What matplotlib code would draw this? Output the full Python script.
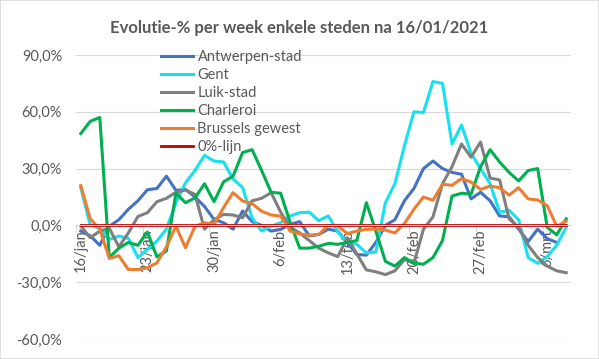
import numpy as np
import matplotlib.pyplot as plt
from matplotlib.patches import Rectangle
from matplotlib.ticker import FuncFormatter

plt.rcParams['font.family'] = ['Lato', 'DejaVu Sans']

# Data (% change per week, daily 16/jan - 8/mrt)
title = "Evolutie-% per week enkele steden na 16/01/2021"
tick_labels = ["16/jan", "23/jan", "30/jan", "6/feb", "13/feb", "20/feb", "27/feb", "6/mrt"]
tick_pos = [0, 7, 14, 21, 28, 35, 42, 49]

antwerpen = [-3, -5.5, -10.5, -0.5, 3, 8.5, 13, 18.8, 19.5, 26,
             18.5, 19, 15, 10, 3.2, 1.4, -2, 7.6, 2, 0,
             -3, -2.1, 0.5, 2, -5.5, -4.8, -2, -3, -9, -15.4,
             -15.7, -9, 0, 3, 13, 19.5, 30, 34, 30, 28,
             27, 14, 17.5, 13, 5, 4.5, -2, -8.5, -2, -7,
             -9, np.nan]
gent = [20, 0, -1.5, -7.4, -5.6, -6.8, -17, -12.7, -8.3, -1.8,
        12, 22.5, 29, 37, 34, 33.5, 24.5, 20, 4, -3,
        -0.5, 1.5, 5, 6.7, 7, 2.5, 5, -3.5, -9, -10,
        -14.5, -14, 12, 22, 42, 60, 59.6, 76, 75, 43,
        53, 38, 30, 22, 7, 8, 3, -17, -20, -16.5,
        -10.5, -1]
luik = [-0.3, -6.5, -3, -1.5, -11.3, -4, 4.7, 6.7, 12.5, 14.3,
        17.5, 18.7, 16.4, -2, 3, 5.8, 5.5, 4, 13, 14.3,
        17.3, 7, -1, -4, -8, -12, -14.5, -16.5, -6.5, -15,
        -23.5, -24.5, -26, -24, -18, -20, -2, 4.5, 22, 31,
        43, 36, 44, 25, 24, 3.5, -1, -10.5, -17, -21.5,
        -24, -25]
charleroi = [48.5, 55, 57, -17, -12, -9, -10.5, -3.5, -16.6, -13.5,
             17, 12, 14.5, 22, 12.5, 23, 26, 38.5, 40, 29,
             17.5, 17, 1.5, -12, -12, -11, -9.5, -10, -9, -8,
             12, -3, -19, -21.5, -17, -20, -20.5, -17, -8, 15.5,
             17, 16.5, 31, 40, 33.5, 28, 23.5, 29, 30, -1,
             -5, 3.5]
brussel = [21, 3.5, -2, -17.5, -16, -23.3, -23.3, -22.4, -19.8, -11.3,
           -0.4, -11.8, -0.5, 1.4, 0.5, 9.4, 17.3, 12.9, 11.5, 7.5,
           5.5, 4.9, -3, -4.5, -5.2, -4.8, 0, -0.4, -4.3, -3,
           -2.1, -1.9, -2.5, -4, 1, 8.5, 15, 13.3, 21.7, 21.2,
           24.7, 22.9, 19, 20.8, 19.9, 16, 19.9, 14, 13.4, 10.5,
           -0.5, 2.3]
nul_lijn = [0] * len(gent)

series = [
    ("Antwerpen-stad", antwerpen, "#4472C4", 2.2),
    ("Gent", gent, "#17E1EE", 2.2),
    ("Luik-stad", luik, "#7F7F7F", 2.2),
    ("Charleroi", charleroi, "#00B050", 2.2),
    ("Brussels gewest", brussel, "#ED7D31", 2.2),
    ("0%-lijn", nul_lijn, "#C00000", 2.0),
]

text_col = "#595959"
grid_col = "#D9D9D9"
fs = 10.5

fig = plt.figure(figsize=(5.99, 3.59), dpi=100)
ax = fig.add_axes([76 / 599, 20 / 359, 495 / 599, 284 / 359])

x = np.arange(len(gent))
for name, vals, col, lw in series:
    ax.plot(x, vals, color=col, lw=lw, label=name, solid_joinstyle='round')

ax.set_xlim(-0.5, len(gent) - 0.5)
ax.set_ylim(-60, 90)
ax.set_yticks([-60, -30, 0, 30, 60, 90])
ax.yaxis.set_major_formatter(FuncFormatter(lambda v, p: f"{v:.1f}%".replace('.', ',')))
ax.tick_params(axis='y', length=0, pad=10, labelsize=fs, labelcolor=text_col)
ax.grid(axis='y', color=grid_col, lw=0.8)
ax.set_axisbelow(True)

for s in ['left', 'right', 'top']:
    ax.spines[s].set_visible(False)
ax.spines['bottom'].set_position(('data', 0))
ax.spines['bottom'].set_color(grid_col)

# category boundary ticks + date labels
ax.set_xticks([p - 0.5 for p in tick_pos])
ax.set_xticklabels([])
ax.tick_params(axis='x', which='major', length=5, color=grid_col, direction='out')
ax.set_xticks(tick_pos, minor=True)
ax.set_xticklabels(tick_labels, minor=True, rotation=90)
ax.tick_params(axis='x', which='minor', length=0, pad=3, labelsize=fs, labelcolor=text_col)

fig.text(0.5, 1 - 28 / 359, title, ha='center', va='center', fontsize=12,
         fontweight='bold', color=text_col)

fig.legend(loc='upper left', bbox_to_anchor=(161 / 599, 1 - 50 / 359), frameon=False,
           fontsize=fs, labelcolor=text_col, handlelength=2.2, handletextpad=0.3,
           labelspacing=0.27, borderpad=0, borderaxespad=0)

fig.patches.append(Rectangle((0, 0), 1, 1, transform=fig.transFigure, fill=False,
                             edgecolor=grid_col, lw=1.2))

fig.savefig("out.png", dpi=100)
